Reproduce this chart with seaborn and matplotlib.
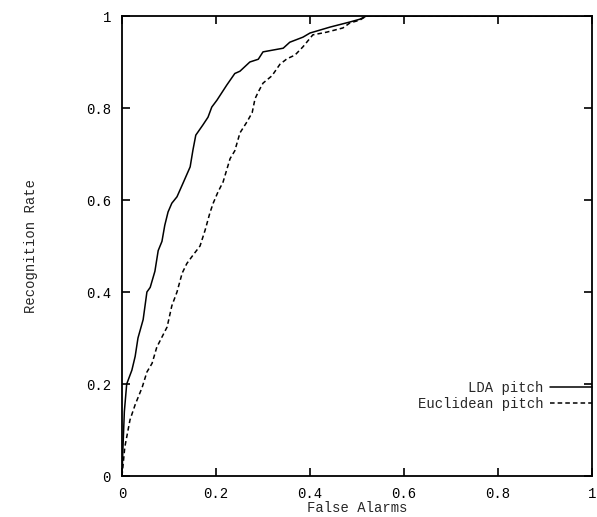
import pandas as pd
import numpy as np
import matplotlib
matplotlib.use('Agg')
import matplotlib.pyplot as plt
import seaborn as sns

# ROC points (false alarm rate, recognition rate)
lda_fa = [0.0, 0.002, 0.005, 0.010, 0.021, 0.028, 0.034, 0.045, 0.053, 0.060,
          0.070, 0.077, 0.085, 0.091, 0.098, 0.106, 0.117, 0.130, 0.145, 0.151,
          0.157, 0.172, 0.183, 0.191, 0.202, 0.223, 0.240, 0.251, 0.272, 0.290,
          0.300, 0.343, 0.357, 0.385, 0.400, 0.443, 0.485, 0.506, 0.520, 1.0]
lda_rr = [0.0, 0.06, 0.14, 0.20, 0.23, 0.26, 0.30, 0.34, 0.40, 0.41,
          0.445, 0.49, 0.51, 0.545, 0.574, 0.593, 0.607, 0.637, 0.672, 0.709,
          0.741, 0.763, 0.780, 0.802, 0.817, 0.850, 0.875, 0.880, 0.900, 0.906,
          0.922, 0.930, 0.943, 0.954, 0.963, 0.976, 0.987, 0.993, 1.0, 1.0]

euc_fa = [0.0, 0.006, 0.017, 0.028, 0.043, 0.053, 0.064, 0.074, 0.085, 0.096,
          0.106, 0.117, 0.128, 0.138, 0.151, 0.166, 0.177, 0.187, 0.194, 0.204,
          0.215, 0.230, 0.240, 0.251, 0.266, 0.277, 0.283, 0.290, 0.300, 0.319,
          0.336, 0.351, 0.368, 0.385, 0.406, 0.436, 0.470, 0.485, 0.506, 0.520, 1.0]
euc_rr = [0.0, 0.063, 0.122, 0.155, 0.193, 0.226, 0.245, 0.280, 0.302, 0.324,
          0.370, 0.400, 0.441, 0.462, 0.480, 0.500, 0.535, 0.572, 0.593, 0.617,
          0.639, 0.690, 0.707, 0.746, 0.770, 0.790, 0.820, 0.835, 0.854, 0.870,
          0.895, 0.907, 0.915, 0.933, 0.959, 0.965, 0.974, 0.985, 0.991, 1.0, 1.0]

series_names = ['LDA pitch', 'Euclidean pitch']
ticks = [0, 0.2, 0.4, 0.6, 0.8, 1]
tick_labels = ['0', '0.2', '0.4', '0.6', '0.8', '1']

df = pd.concat([
    pd.DataFrame({'fa': lda_fa, 'rr': lda_rr, 'method': series_names[0]}),
    pd.DataFrame({'fa': euc_fa, 'rr': euc_rr, 'method': series_names[1]}),
], ignore_index=True)

sns.set_style('ticks')
plt.rcParams['font.family'] = ['Liberation Mono', 'DejaVu Sans Mono']
plt.rcParams['xtick.direction'] = 'in'
plt.rcParams['ytick.direction'] = 'in'

fig = plt.figure(figsize=(5.97, 5.17), dpi=100)
ax = fig.add_axes([122 / 597, 1 - 476 / 517, 470 / 597, 460 / 517])

sns.lineplot(data=df, x='fa', y='rr', style='method', hue='method',
             palette=['black', 'black'], dashes=[(None, None), (3, 2)],
             sort=False, estimator=None, linewidth=1.1, ax=ax)

ax.set_xlim(0, 1)
ax.set_ylim(0, 1)
ax.set_xticks(ticks)
ax.set_xticklabels(tick_labels)
ax.set_yticks(ticks)
ax.set_yticklabels(tick_labels)
ax.tick_params(axis='both', which='both', direction='in', length=6, width=1.2,
               top=True, right=True, labelsize=10, colors='black', pad=8)
for s in ax.spines.values():
    s.set_linewidth(1.3)
    s.set_color('black')

ax.set_xlabel('False Alarms', fontsize=10)
ax.set_ylabel('Recognition Rate', fontsize=10)
ax.xaxis.set_label_coords(0.5, -0.055)
ax.yaxis.set_label_coords(-0.178, 0.5)

leg = ax.legend(loc='center right', bbox_to_anchor=(1.0, 0.174), frameon=False,
                markerfirst=False, handlelength=3.0, handletextpad=0.5,
                labelspacing=0.15, fontsize=10, borderaxespad=0.0, borderpad=0.0)
for line in leg.get_lines():
    line.set_linewidth(1.1)

fig.savefig('out.png', dpi=100, facecolor='white')
